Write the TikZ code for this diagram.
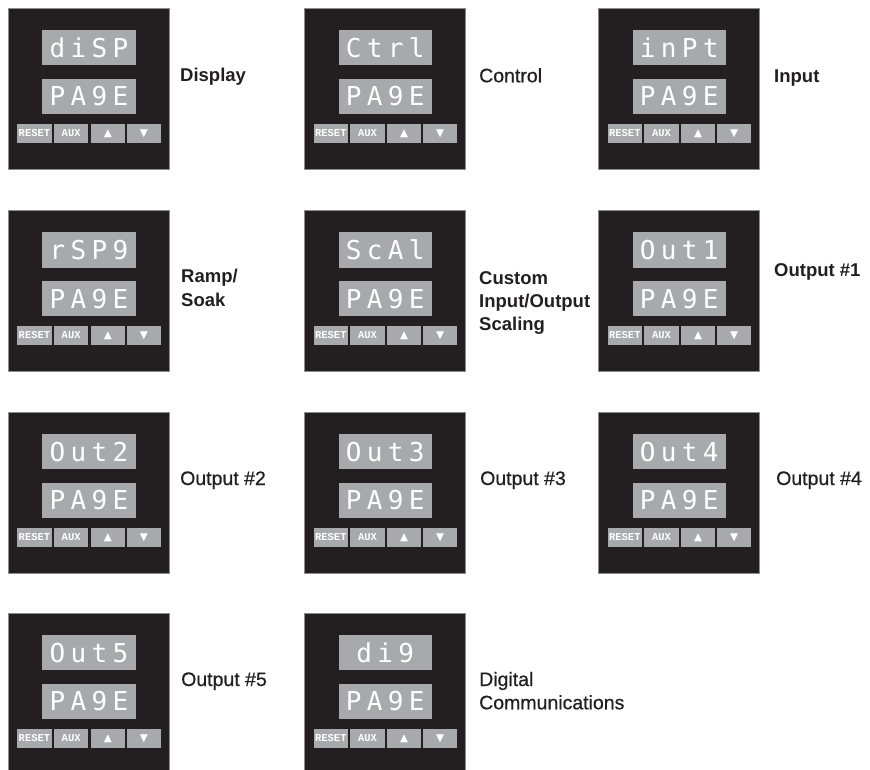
\documentclass[tikz,border=0pt]{standalone}
\usepackage{fontspec}
\setmainfont{Liberation Sans}
\newfontfamily\medfont[FakeBold=0.6]{Liberation Sans}
\newfontfamily\segfont{DejaVu Sans Mono}
\newfontfamily\btnfont{Liberation Mono}
\newfontfamily\symfont{DejaVu Sans}
\definecolor{panelblack}{HTML}{231F20}
\definecolor{boxgray}{HTML}{A7A9AC}
\definecolor{edgegray}{HTML}{8C8C8C}
\definecolor{labelblack}{HTML}{231F20}
\newcommand\sg[1]{\makebox[21pt]{#1}}
\tikzset{
  panelbox/.style={draw=edgegray, line width=0.8pt, fill=panelblack,
    minimum width=161.5pt, minimum height=161pt, inner sep=0pt},
  dispbox/.style={fill=boxgray, minimum width=93.4pt, minimum height=35pt,
    inner sep=0pt, text=white, font=\segfont\fontsize{26}{26}\selectfont,
    text height=19pt, text depth=0pt},
  btn/.style={fill=boxgray, minimum width=34.4pt, minimum height=18.6pt,
    inner sep=0pt, text=white},
  btntxt/.style={btn, font=\btnfont\bfseries\fontsize{10.5}{10.5}\selectfont},
  btnsym/.style={btn, font=\symfont\fontsize{10.5}{10.5}\selectfont},
  lblb/.style={anchor=base west, inner sep=0pt, text=labelblack,
    font=\bfseries\fontsize{18.5}{22}\selectfont},
  lblr/.style={anchor=base west, inner sep=0pt, text=labelblack,
    font=\medfont\fontsize{19.5}{23}\selectfont},
}
\newcommand\drawpanel[4]{%
  \begin{scope}[shift={(#2,#3)}]
    \node[panelbox] (#1) at (80.75,80.5) {};
    \node[dispbox] (#1t) at (81,39.5) {#4};
    \node[dispbox] (#1b) at (81,88) {\sg P\sg A\sg 9\sg E};
    \node[btntxt] (#1r) at (26.5,125) {RESET};
    \node[btntxt] (#1a) at (63.2,125) {AUX};
    \node[btnsym] (#1u) at (99.9,125) {▲};
    \node[btnsym] (#1d) at (135.9,125) {▼};
  \end{scope}}
\begin{document}
\begin{tikzpicture}[x=1pt,y=-1pt]
  \useasboundingbox (0,0) rectangle (870,770);
  \clip (0,0) rectangle (870,770);
  % row 1
  \drawpanel{pa}{8}{8.3}{\sg d\sg i\sg S\sg P}
  \drawpanel{pb}{304.3}{8.3}{\sg C\sg t\sg r\sg l}
  \drawpanel{pc}{598.3}{8.3}{\sg i\sg n\sg P\sg t}
  % row 2
  \drawpanel{pd}{8}{210.5}{\sg r\sg S\sg P\sg 9}
  \drawpanel{pe}{304.3}{210.5}{\sg S\sg c\sg A\sg l}
  \drawpanel{pf}{598.3}{210.5}{\sg O\sg u\sg t\sg 1}
  % row 3
  \drawpanel{pg}{8}{412.3}{\sg O\sg u\sg t\sg 2}
  \drawpanel{ph}{304.3}{412.3}{\sg O\sg u\sg t\sg 3}
  \drawpanel{pi}{598.3}{412.3}{\sg O\sg u\sg t\sg 4}
  % row 4
  \drawpanel{pj}{8}{613.3}{\sg O\sg u\sg t\sg 5}
  \drawpanel{pk}{304.3}{613.3}{\sg d\sg i\sg 9}
  % labels
  \node[lblb] (l1) at (180,82) {Display};
  \node[lblr] (l2) at (479,82.3) {Control};
  \node[lblb] (l3) at (774,82.3) {Input};
  \node[lblb] (l4a) at (181,282.3) {Ramp/};
  \node[lblb] (l4b) at ([yshift=-23.7pt]l4a.base west) {Soak};
  \node[lblb] (l5a) at (479,284.3) {Custom};
  \node[lblb] (l5b) at ([yshift=-23pt]l5a.base west) {Input/Output};
  \node[lblb] (l5c) at ([yshift=-23pt]l5b.base west) {Scaling};
  \node[lblb] (l6) at (774,276.7) {Output \#1};
  \node[lblr] (l7) at (180,485) {Output \#2};
  \node[lblr] (l8) at (480,485) {Output \#3};
  \node[lblr] (l9) at (776,485) {Output \#4};
  \node[lblr] (l10) at (181,686) {Output \#5};
  \node[lblr] (l11a) at (479,686) {Digital};
  \node[lblr] (l11b) at ([yshift=-23.3pt]l11a.base west) {Communications};
\end{tikzpicture}
\end{document}
